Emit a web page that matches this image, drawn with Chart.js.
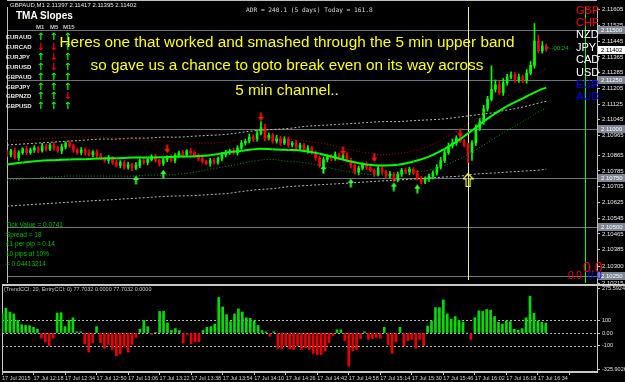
<!DOCTYPE html>
<html>
<head>
<meta charset="utf-8">
<script src="https://cdn.jsdelivr.net/npm/chart.js@4.4.0/dist/chart.umd.min.js"></script>
<style>
html, body { margin: 0; padding: 0; background: #000; }
#wrap { position: relative; width: 625px; height: 382px; overflow: hidden; background: #000; font-family: 'Liberation Sans', Arial, sans-serif; }
#mainBox { position: absolute; left: 0; top: 0; width: 625px; height: 290px; z-index: 2; }
#cciBox { position: absolute; left: 0; top: 284px; width: 625px; height: 98px; z-index: 1; }
.t { position: absolute; white-space: nowrap; line-height: 1; z-index: 5; }
</style>
</head>
<body>
<div id="wrap">
  <div id="cciBox"><canvas id="cciChart" width="625" height="98"></canvas></div>
  <div id="mainBox"><canvas id="mainChart" width="625" height="290"></canvas></div>
</div>
<script>
// ---- data (2-minute slots) ----
const xTickLabels = ['17 Jul 2015', '17 Jul 12:18', '17 Jul 12:34', '17 Jul 12:50', '17 Jul 13:06', '17 Jul 13:22',
    '17 Jul 13:38', '17 Jul 13:54', '17 Jul 14:10', '17 Jul 14:26', '17 Jul 14:42', '17 Jul 14:58',
    '17 Jul 15:14', '17 Jul 15:30', '17 Jul 15:46', '17 Jul 16:02', '17 Jul 16:18', '17 Jul 16:34'];

const priceTicks = [2.11605, 2.11525, 2.11445, 2.11365, 2.11285, 2.11205, 2.11125, 2.11045, 2.10965,
    2.10865, 2.10785, 2.10705, 2.10625, 2.10545, 2.10465, 2.10385, 2.10300, 2.10215];

const levelPrices = [2.1150, 2.1125, 2.1100, 2.1075, 2.1050, 2.1025];

const firstOpen = 2.10878;
const closes = [
    2.10868, 2.10887, 2.10853, 2.10878, 2.10897, 2.10878, 2.10892, 2.10902, 2.10887, 2.10912,
    2.10897, 2.10917, 2.10902, 2.10887, 2.10907, 2.10927, 2.10912, 2.10892, 2.10878, 2.10892,
    2.10878, 2.10868, 2.10882, 2.10863, 2.10848, 2.10838, 2.10853, 2.10828, 2.10813, 2.10828,
    2.10803, 2.10818, 2.10799, 2.10813, 2.10838, 2.10828, 2.10843, 2.10858, 2.10838, 2.10823,
    2.10843, 2.10853, 2.10838, 2.10863, 2.10878, 2.10868, 2.10887, 2.10878, 2.10863, 2.10848,
    2.10833, 2.10823, 2.10838, 2.10828, 2.10848, 2.10868, 2.10878, 2.10887, 2.10878, 2.10902,
    2.10927, 2.10937, 2.10957, 2.10947, 2.10976, 2.11006, 2.10952, 2.10966, 2.10937, 2.10952,
    2.10927, 2.10947, 2.10917, 2.10927, 2.10902, 2.10917, 2.10887, 2.10902, 2.10878, 2.10853,
    2.10813, 2.10843, 2.10858, 2.10848, 2.10868, 2.10853, 2.10863, 2.10838, 2.10813, 2.10779,
    2.10799, 2.10818, 2.10803, 2.10789, 2.10769, 2.10799, 2.10779, 2.10759, 2.10769, 2.10739,
    2.10769, 2.10789, 2.10779, 2.10794, 2.10774, 2.10749, 2.10729, 2.10744, 2.10759, 2.10774,
    2.10803, 2.10838, 2.10878, 2.10912, 2.10927, 2.10952, 2.10937, 2.10917, 2.10878, 2.10927,
    2.11001, 2.11036, 2.11100, 2.11149, 2.11199, 2.11223, 2.11184, 2.11233, 2.11263, 2.11273,
    2.11248, 2.11263, 2.11243, 2.11283, 2.11322, 2.11446, 2.11396, 2.11421, 2.11402];

// wick lengths beyond the body, in points (0.00001)
const wickUp = [
    12, 8, 15, 10, 6, 14, 9, 11, 7, 13, 10, 8, 12, 9, 15, 6, 11, 10, 8, 12,
    9, 14, 7, 10, 12, 8, 11, 6, 13, 9, 10, 12, 7, 15, 9, 11, 8, 10, 13, 7,
    12, 9, 14, 10, 8, 11, 6, 12, 9, 10, 15, 8, 11, 13, 7, 10, 12, 9, 14, 11,
    13, 10, 16, 12, 15, 30, 18, 12, 10, 14, 9, 12, 11, 8, 13, 10, 9, 12, 8, 10,
    7, 12, 9, 11, 14, 8, 10, 16, 12, 9, 11, 8, 13, 10, 7, 12, 9, 10, 14, 8,
    11, 9, 12, 10, 8, 13, 9, 11, 10, 12, 14, 16, 18, 15, 20, 12, 14, 10, 8, 12,
    18, 15, 20, 16, 120, 25, 18, 22, 14, 16, 12, 15, 10, 18, 20, 89, 30, 22, 10];
const wickDn = [
    10, 12, 7, 14, 9, 11, 8, 13, 10, 6, 12, 9, 11, 8, 14, 10, 7, 12, 9, 11,
    13, 8, 10, 12, 7, 9, 14, 11, 8, 12, 10, 9, 13, 7, 11, 10, 12, 8, 9, 14,
    10, 11, 7, 12, 9, 13, 8, 10, 11, 12, 9, 7, 14, 10, 8, 12, 11, 9, 10, 13,
    8, 11, 9, 12, 10, 8, 14, 9, 11, 10, 12, 8, 13, 9, 11, 10, 7, 12, 9, 14,
    10, 8, 12, 11, 9, 13, 10, 8, 12, 10, 14, 9, 11, 8, 13, 10, 12, 9, 11, 8,
    10, 12, 9, 13, 8, 11, 10, 9, 12, 14, 10, 8, 11, 9, 10, 12, 8, 10, 50, 40,
    12, 10, 14, 11, 9, 13, 10, 15, 12, 10, 11, 13, 9, 12, 10, 14, 11, 12, 9];

// TMA channel + 5 min channel, sampled every 4 slots
const bandSlots = [0, 4, 8, 12, 16, 20, 24, 28, 32, 36, 40, 44, 48, 52, 56, 60, 64, 68,
    72, 76, 80, 84, 88, 92, 96, 100, 104, 108, 112, 116, 120, 124, 128, 132, 136, 138];
const tmaMid = [2.10818, 2.10828, 2.10836, 2.10840, 2.10843, 2.10845, 2.10848, 2.10850, 2.10853, 2.10853,
    2.10855, 2.10858, 2.10860, 2.10865, 2.10878, 2.10887, 2.10897, 2.10895, 2.10892, 2.10887,
    2.10873, 2.10853, 2.10833, 2.10818, 2.10813, 2.10816, 2.10833, 2.10858, 2.10897, 2.10947,
    2.11006, 2.11065, 2.11115, 2.11154, 2.11194, 2.11209];
const tmaUp = [2.10937, 2.10942, 2.10947, 2.10952, 2.10957, 2.10957, 2.10957, 2.10952, 2.10947, 2.10942,
    2.10937, 2.10932, 2.10927, 2.10927, 2.10932, 2.10942, 2.10947, 2.10952, 2.10947, 2.10937,
    2.10927, 2.10912, 2.10892, 2.10878, 2.10868, 2.10873, 2.10887, 2.10912, 2.10952, 2.10996,
    2.11050, 2.11110, 2.11164, 2.11223, 2.11283, 2.11307];
const tmaDn = [2.10739, 2.10744, 2.10749, 2.10754, 2.10759, 2.10759, 2.10759, 2.10759, 2.10759, 2.10764,
    2.10764, 2.10769, 2.10779, 2.10794, 2.10808, 2.10823, 2.10838, 2.10843, 2.10833, 2.10828,
    2.10813, 2.10794, 2.10779, 2.10769, 2.10764, 2.10769, 2.10779, 2.10789, 2.10813, 2.10848,
    2.10892, 2.10942, 2.10991, 2.11036, 2.11085, 2.11105];
const outerUp = [2.10917, 2.10922, 2.10927, 2.10932, 2.10937, 2.10942, 2.10947, 2.10947, 2.10952, 2.10952,
    2.10957, 2.10957, 2.10962, 2.10966, 2.10971, 2.10981, 2.10991, 2.10996, 2.11001, 2.11011,
    2.11016, 2.11021, 2.11026, 2.11031, 2.11036, 2.11036, 2.11041, 2.11045, 2.11050, 2.11060,
    2.11070, 2.11080, 2.11095, 2.11110, 2.11130, 2.11139];
const outerDn = [2.10606, 2.10611, 2.10616, 2.10621, 2.10626, 2.10631, 2.10636, 2.10640, 2.10645, 2.10650,
    2.10655, 2.10658, 2.10660, 2.10665, 2.10670, 2.10680, 2.10690, 2.10695, 2.10705, 2.10710,
    2.10715, 2.10719, 2.10724, 2.10729, 2.10734, 2.10739, 2.10744, 2.10749, 2.10754, 2.10759,
    2.10769, 2.10774, 2.10779, 2.10784, 2.10789, 2.10794];

const redArrowSlots = [41, 65, 86, 94, 116];
const redArrowPrices = [2.10897, 2.11060, 2.10887, 2.10853, 2.10976];
const greenArrowSlots = [33, 40, 81, 88, 99, 105];
const greenArrowPrices = [2.10739, 2.10769, 2.10794, 2.10724, 2.10705, 2.10695];
const signalSlot = 118;
const signalPrice = 2.10739;
const currentLineSlot = 148;

const cciValues = [
    157, 196, 165, 150, 100, 65, 60, 58, 45, 30,
    -40, -72, -100, -40, 157, 160, 50, 100, 120, 10,
    10, -85, -150, -75, 50, -75, -120, -90, -130, -180,
    -165, -110, -150, -90, -35, 30, 100, 50, -8, 5,
    170, 172, 80, 20, 35, 20, -80, -10, -85, -70,
    -70, 20, 45, 50, 70, 280, 205, 145, 90, 150,
    190, 165, 120, 115, 95, 60, 20, 10, -25, 10,
    -120, -125, -100, -125, -130, -100, -130, -115, -130, -160,
    -170, -170, -140, -75, -20, 25, 25, -60, -260, -140,
    -130, -45, 10, -50, -45, -35, -40, 45, -90, -160,
    -70, 45, -100, -60, -50, -120, -50, -100, 55, 95,
    200, 200, 260, 150, 110, 130, 100, 85, 0, -50,
    120, 175, 170, 185, 180, 130, 85, 70, 95, 90,
    30, 22, 35, 120, 290, 155, 95, 84, 78];
const cciTickPos = [354, 100, 0, -100, -291];
const cciTickLabels = ['275.5924', '100', '0.00', '-100', '-325.9026'];
const cciLevels = [100, 0, -100];

const slopePairs = ['EURAUD', 'EURCAD', 'EURJPY', 'EURUSD', 'GBPAUD', 'GBPJPY', 'GBPNZD', 'GBPUSD'];
const slopeM1 = [1, -1, 1, 1, 1, 1, 1, 1];
const slopeM5 = [1, -1, -1, -1, 1, 1, 1, 1];
const slopeM15 = [1, 1, 1, 1, 1, 1, -1, 1];

const currNames = ['GBP', 'CHF', 'NZD', 'JPY', 'CAD', 'USD', 'EUR', 'AUD'];
const currColors = ['#ff0000', '#ff0000', '#ffffff', '#ffffff', '#ffffff', '#ffffff', '#0000ff', '#0000ff'];

const infoLines = ['Tick Value = 0.0741', 'Spread = 18', '£1 per pip = 0.14', '10 pips at 10%', '= 0.04413214'];
const noteLines = ['Heres one that worked and smashed through the 5 min upper band',
    'so gave us a chance to goto break even on its way across', '5 min channel..'];

// ---- helpers ----
const slotCount = 152;
const slotLabels = Array.from({ length: slotCount }, (_, i) => i % 8 === 0 ? (xTickLabels[i / 8] || '') : '');

function sparse(slots, vals) {
    const a = new Array(slotCount).fill(null);
    slots.forEach((s, k) => { a[s] = vals[k]; });
    return a;
}

const opens = closes.map((c, i) => i ? closes[i - 1] : firstOpen);
const bodies = closes.map((c, i) => [opens[i], c]);
const wicks = closes.map((c, i) => [Math.min(opens[i], c) - wickDn[i] / 1e5, Math.max(opens[i], c) + wickUp[i] / 1e5]);
const candleColors = closes.map((c, i) => c >= opens[i] ? '#00ff00' : '#ff0000');

function arrowImg(color, up, w, h, hollow) {
    const c = document.createElement('canvas');
    c.width = w; c.height = h;
    const g = c.getContext('2d');
    const m = w / 2, head = Math.round(h * 0.45), s = Math.max(1, Math.round(w * 0.18));
    const pts = [[m, 0.5], [w - 0.5, head], [m + s, head], [m + s, h - 0.5], [m - s, h - 0.5], [m - s, head], [0.5, head]];
    g.beginPath();
    pts.forEach(([x, y], k) => {
        const yy = up ? y : h - y;
        if (k) g.lineTo(x, yy); else g.moveTo(x, yy);
    });
    g.closePath();
    if (hollow) { g.strokeStyle = color; g.lineWidth = 1.2; g.stroke(); }
    else { g.fillStyle = color; g.fill(); }
    return c;
}

const pxFont = (size) => ({ size: size, family: 'Liberation Sans' });

// ---- main price chart ----
const mainDecor = {
    id: 'mainDecor',
    beforeDatasetsDraw(chart) {
        const { ctx, chartArea: a, scales: { x, y } } = chart;
        ctx.save();
        ctx.lineWidth = 1;
        ctx.strokeStyle = '#6c7480';
        levelPrices.forEach(p => {
            const yy = Math.round(y.getPixelForValue(p)) + 0.5;
            ctx.beginPath(); ctx.moveTo(a.left, yy); ctx.lineTo(a.right, yy); ctx.stroke();
        });
        const vx = Math.round(x.getPixelForValue(signalSlot)) + 0.5;
        ctx.strokeStyle = '#eeee99';
        ctx.beginPath(); ctx.moveTo(vx, a.top); ctx.lineTo(vx, a.bottom - 3); ctx.stroke();
        const gx = Math.round(x.getPixelForValue(currentLineSlot)) + 0.5;
        ctx.strokeStyle = '#00ff00';
        ctx.beginPath(); ctx.moveTo(gx, a.top); ctx.lineTo(gx, a.bottom); ctx.stroke();
        ctx.strokeStyle = '#c0c0c0';
        ctx.beginPath(); ctx.moveTo(a.left + 0.5, a.top); ctx.lineTo(a.left + 0.5, a.bottom); ctx.stroke();
        ctx.beginPath(); ctx.moveTo(a.left, 0.5); ctx.lineTo(a.right, 0.5); ctx.stroke();
        ctx.restore();
    },
    afterDraw(chart) {
        const { ctx, chartArea: a, scales: { y } } = chart;
        ctx.save();
        ctx.font = '6px "Liberation Sans"';
        ctx.textBaseline = 'middle';
        levelPrices.forEach(p => {
            const yy = Math.round(y.getPixelForValue(p));
            ctx.fillStyle = '#7c8591';
            ctx.fillRect(a.right + 1, yy - 4, 27, 8);
            ctx.fillStyle = '#ffffff';
            ctx.fillText(p.toFixed(5), a.right + 4, yy);
        });
        const last = closes[closes.length - 1];
        const cy = Math.round(y.getPixelForValue(last));
        ctx.fillStyle = '#ffffff';
        ctx.fillRect(a.right + 1, cy - 4, 27, 8);
        ctx.fillStyle = '#000000';
        ctx.fillText(last.toFixed(5), a.right + 4, cy);
        ctx.restore();
    }
};

new Chart(document.getElementById('mainChart'), {
    type: 'bar',
    data: {
        labels: slotLabels,
        datasets: [
            { type: 'line', data: sparse(bandSlots, tmaMid), borderWidth: 2, pointRadius: 0, spanGaps: true, tension: 0.4,
              borderColor: '#00ff00',
              segment: { borderColor: c => c.p1.parsed.y < c.p0.parsed.y ? '#ff0000' : '#00ff00' }, order: 1 },
            { type: 'line', data: sparse(bandSlots, tmaUp), borderColor: '#b00000', borderWidth: 1, borderDash: [1, 2],
              pointRadius: 0, spanGaps: true, tension: 0.4, order: 2 },
            { type: 'line', data: sparse(bandSlots, tmaDn), borderColor: '#00a000', borderWidth: 1, borderDash: [1, 2],
              pointRadius: 0, spanGaps: true, tension: 0.4, order: 2 },
            { type: 'line', data: sparse(bandSlots, outerUp), borderColor: '#b8b8b8', borderWidth: 1, borderDash: [2, 2],
              pointRadius: 0, spanGaps: true, tension: 0.4, order: 2 },
            { type: 'line', data: sparse(bandSlots, outerDn), borderColor: '#b8b8b8', borderWidth: 1, borderDash: [2, 2],
              pointRadius: 0, spanGaps: true, tension: 0.4, order: 2 },
            { type: 'line', data: sparse(redArrowSlots, redArrowPrices), showLine: false, pointRadius: 5,
              pointStyle: arrowImg('#ff1010', false, 7, 10, false), order: 0 },
            { type: 'line', data: sparse(greenArrowSlots, greenArrowPrices), showLine: false, pointRadius: 5,
              pointStyle: arrowImg('#30ff30', true, 7, 10, false), order: 0 },
            { type: 'line', data: sparse([signalSlot], [signalPrice]), showLine: false, pointRadius: 6,
              pointStyle: arrowImg('#ffff40', true, 11, 14, true), order: 0 },
            { data: wicks, backgroundColor: candleColors, barThickness: 1, grouped: false, order: 6 },
            { data: bodies, backgroundColor: candleColors, barThickness: 2, minBarLength: 1, grouped: false, order: 5 }
        ]
    },
    options: {
        responsive: false,
        animation: false,
        events: [],
        layout: { padding: { left: 2, right: 0, top: 0, bottom: 6 } },
        plugins: { legend: { display: false }, tooltip: { enabled: false } },
        scales: {
            x: { display: false, offset: false, grid: { offset: false } },
            y: {
                position: 'right', min: 2.10215, max: 2.11619,
                afterBuildTicks: s => { s.ticks = priceTicks.map(v => ({ value: v })); },
                afterFit: s => { s.width = 28; s.paddingTop = 0; s.paddingBottom = 0; },
                ticks: { color: '#e8e8e8', font: pxFont(6), padding: 2, callback: v => v.toFixed(5) },
                grid: { drawOnChartArea: false, color: '#c0c0c0', tickLength: 3 },
                border: { color: '#c0c0c0' }
            }
        }
    },
    plugins: [mainDecor]
});

// ---- CCI sub-window ----
const cciDecor = {
    id: 'cciDecor',
    beforeDatasetsDraw(chart) {
        const { ctx, chartArea: a, scales: { y } } = chart;
        ctx.save();
        ctx.strokeStyle = '#b4b4b4';
        ctx.lineWidth = 1;
        ctx.setLineDash([2, 2]);
        cciLevels.forEach(v => {
            const yy = Math.round(y.getPixelForValue(v)) + 0.5;
            ctx.beginPath(); ctx.moveTo(a.left, yy); ctx.lineTo(a.right, yy); ctx.stroke();
        });
        ctx.setLineDash([]);
        ctx.strokeStyle = '#c8c8c8';
        ctx.strokeRect(a.left + 0.5, a.top + 0.5, a.right - a.left, a.bottom - a.top - 1);
        ctx.fillStyle = '#c8c8c8';
        ctx.fillRect(a.left, a.top, a.right - a.left + 28, 2);
        ctx.restore();
    }
};

new Chart(document.getElementById('cciChart'), {
    type: 'bar',
    data: {
        labels: slotLabels,
        datasets: [{
            data: cciValues,
            backgroundColor: cciValues.map(v => v >= 0 ? '#00e000' : '#ee0000'),
            barThickness: 2
        }]
    },
    options: {
        responsive: false,
        animation: false,
        events: [],
        layout: { padding: { left: 2, right: 0, top: 0, bottom: 0 } },
        plugins: { legend: { display: false }, tooltip: { enabled: false } },
        scales: {
            x: {
                offset: false,
                afterFit: s => { s.height = 10; s.paddingLeft = 0; s.paddingRight = 0; },
                ticks: { autoSkip: false, maxRotation: 0, align: 'start', padding: 0, color: '#d0d0d0', font: pxFont(5.5) },
                grid: { offset: false, drawOnChartArea: false, tickLength: 3,
                        color: c => (c.index % 8 === 0 ? '#c8c8c8' : 'rgba(0,0,0,0)') },
                border: { color: '#c8c8c8' }
            },
            y: {
                position: 'right', min: -307, max: 386,
                afterBuildTicks: s => { s.ticks = cciTickPos.map(v => ({ value: v })); },
                afterFit: s => { s.width = 28; s.paddingTop = 0; s.paddingBottom = 0; },
                ticks: { color: '#e0e0e0', font: pxFont(5.5), padding: 2, callback: (v, i) => cciTickLabels[i] },
                grid: { drawOnChartArea: false, color: '#c8c8c8', tickLength: 3 },
                border: { color: '#c8c8c8' }
            }
        }
    },
    plugins: [cciDecor]
});

// ---- text overlays ----
const wrap = document.getElementById('wrap');
function addText(txt, x, cy, size, color, extra) {
    const d = document.createElement('div');
    d.className = 't';
    d.textContent = txt;
    d.style.left = x + 'px';
    d.style.top = (cy - size / 2) + 'px';
    d.style.fontSize = size + 'px';
    d.style.color = color;
    if (extra) Object.assign(d.style, extra);
    wrap.appendChild(d);
    return d;
}

addText('GBPAUD,M1  2.11397 2.11417 2.11395 2.11402', 10, 5, 6, '#e8e8e8');
addText('ADR = 240.1  (5 days)      Today = 161.8', 246, 10, 6.2, '#d8d8d8', { fontFamily: '"DejaVu Sans Mono", monospace' });

addText('TMA Slopes', 16, 16, 10, '#ffffff', { fontWeight: 'bold' });
['M1', 'M5', 'M15'].forEach((h, k) => addText(h, [36, 50, 63][k], 27, 6, '#c8c8c8', { fontWeight: 'bold' }));
slopePairs.forEach((p, r) => {
    const cy = 37 + r * 9.9;
    addText(p, 6, cy, 6, '#e8e8e8', { fontWeight: 'bold' });
    [slopeM1, slopeM5, slopeM15].forEach((col, k) => {
        const up = col[r] > 0;
        addText(up ? '↑' : '↓', [36.5, 49.5, 63.5][k], cy, 10, up ? '#00ff00' : '#ff0000',
            { fontWeight: 'bold', fontFamily: '"DejaVu Sans", sans-serif' });
    });
});

noteLines.forEach((l, k) => addText(l, 0, [42, 65, 90][k], 15.3, '#ffff00', { width: '574px', textAlign: 'center' }));

currNames.forEach((c, k) => addText(c, 576, 10 + k * 12.4, 11, currColors[k]));
addText('<--00:24', 546, 48, 6, '#00c000');
addText('0.0', 583, 267, 14, '#ff0000');
addText('0.0', 568, 276, 10, '#ff0000');
addText('0.0', 588, 276, 10, '#0000ff');

infoLines.forEach((l, k) => addText(l, 6, 225 + k * 9.8, 6.5, '#00c000'));
addText('(TrendCCI: 20, EntryCCI: 0) 77.7032 0.0000 77.7032 0.0000', 4, 290, 5.5, '#c8c8c8');
</script>
</body>
</html>
